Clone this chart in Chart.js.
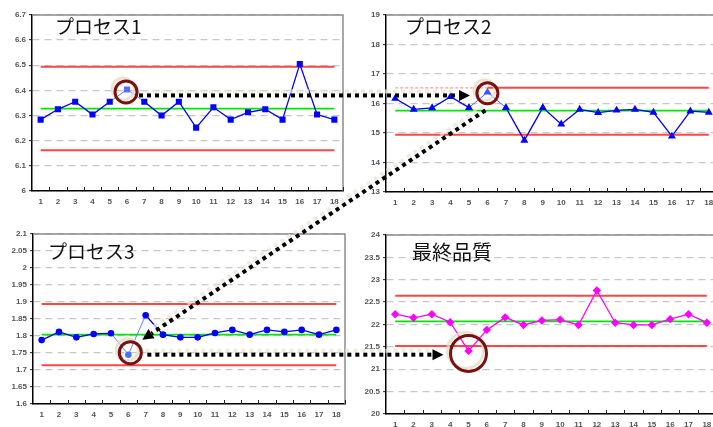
<!DOCTYPE html>
<html>
<head>
<meta charset="utf-8">
<script src="https://cdn.jsdelivr.net/npm/chart.js@4"></script>
<style>
  html, body { margin: 0; padding: 0; background: #fff; }
  #page { position: relative; width: 713px; height: 427px; overflow: hidden; }
  canvas { position: absolute; }
</style>
</head>
<body>
<div id="page">
  <canvas id="c1" width="356" height="213" style="left:0;top:0"></canvas>
  <canvas id="c2" width="372" height="213" style="left:356px;top:0"></canvas>
  <canvas id="c3" width="356" height="212" style="left:0;top:215px"></canvas>
  <canvas id="c4" width="372" height="230" style="left:356px;top:215px"></canvas>
  <canvas id="overlay" width="713" height="427" style="left:0;top:0"></canvas>
</div>
<script>
// sample numbers along x
const categories = ['1', '2', '3', '4', '5', '6', '7', '8', '9', '10', '11', '12', '13', '14', '15', '16', '17', '18'];

// titles
const titles = ['プロセス1', 'プロセス2', 'プロセス3', '最終品質'];

// measured values per process
const proc1 = [6.284, 6.325, 6.355, 6.304, 6.355, 6.404, 6.355, 6.30, 6.355, 6.252, 6.333, 6.284, 6.313, 6.325, 6.284, 6.505, 6.304, 6.284];
const proc2 = [16.17, 15.8, 15.85, 16.23, 15.86, 16.38, 15.86, 14.75, 15.86, 15.3, 15.8, 15.69, 15.77, 15.8, 15.7, 14.89, 15.74, 15.7];
const proc3 = [1.788, 1.812, 1.796, 1.806, 1.808, 1.745, 1.861, 1.804, 1.796, 1.796, 1.809, 1.818, 1.804, 1.818, 1.812, 1.818, 1.804, 1.818];
const finalQ = [22.23, 22.15, 22.23, 22.05, 21.41, 21.88, 22.16, 21.99, 22.09, 22.11, 21.99, 22.76, 22.04, 21.99, 21.99, 22.12, 22.23, 22.04];

// control limits: UCL, CL, LCL
const proc1Limits = [6.494, 6.328, 6.162];
const proc2Limits = [16.53, 15.76, 14.94];
const proc3Limits = [1.894, 1.804, 1.714];
const finalLimits = [22.64, 22.07, 21.52];

// y axis: min, max, step
const proc1Axis = [6, 6.7, 0.1];
const proc2Axis = [13, 19, 1];
const proc3Axis = [1.6, 2.1, 0.05];
const finalAxis = [20, 24, 0.5];

const tickFont = { family: 'Liberation Sans, Arial, sans-serif', size: 8, weight: 'bold' };

// grey frame, inward x ticks and the title inside the plot
const framePlugin = {
  id: 'frame',
  beforeDatasetsDraw(chart, args, opts) {
    const a = chart.chartArea;
    const ctx = chart.ctx;
    ctx.save();
    ctx.strokeStyle = '#8a8a8a';
    ctx.lineWidth = 1.5;
    ctx.beginPath();
    ctx.moveTo(a.left, a.top);
    ctx.lineTo(a.right, a.top);
    ctx.lineTo(a.right, a.bottom);
    ctx.stroke();
    // short ticks between categories, pointing up
    const step = a.width / categories.length;
    ctx.strokeStyle = '#222';
    ctx.lineWidth = 1;
    ctx.beginPath();
    for (let i = 1; i <= categories.length; i++) {
      const x = Math.round(a.left + i * step) + 0.5;
      ctx.moveTo(x, a.bottom);
      ctx.lineTo(x, a.bottom - 4);
    }
    ctx.stroke();
    ctx.fillStyle = '#111';
    ctx.font = opts.size + 'px "Noto Sans CJK JP", sans-serif';
    ctx.textBaseline = 'middle';
    ctx.fillText(opts.text, a.left + opts.dx, a.top + opts.dy);
    ctx.restore();
  }
};

function limitSet(value, color, width, segment) {
  const pts = segment
    ? [{ x: '1', y: value }, { x: '6', y: value }, { x: '18', y: value }]
    : [{ x: '1', y: value }, { x: '18', y: value }];
  return {
    data: pts,
    borderColor: color,
    borderWidth: width,
    pointRadius: 0,
    segment: segment || {}
  };
}

function makeChart(id, values, limits, axis, look) {
  const el = document.getElementById(id);
  const W = el.width, H = el.height;
  const ucl = limitSet(limits[0], '#ff4646', 2, look.uclSegment);
  const cl = limitSet(limits[1], '#00e600', 1.8);
  const lcl = limitSet(limits[2], '#ff4646', 2);
  return new Chart(el, {
    type: 'line',
    data: {
      labels: categories,
      datasets: [
        {
          data: values,
          borderColor: look.color,
          borderWidth: 1.3,
          pointStyle: look.point,
          pointRadius: look.radius,
          pointBorderWidth: 0,
          pointBackgroundColor: ctx => ctx.dataIndex === look.faded ? look.fadedColor : look.color,
          segment: {
            borderColor: ctx => (ctx.p0DataIndex === look.faded || ctx.p1DataIndex === look.faded) ? look.fadedColor : look.color,
            borderWidth: ctx => (ctx.p0DataIndex === look.faded || ctx.p1DataIndex === look.faded) ? 0.9 : 1.3
          }
        },
        ucl, cl, lcl
      ]
    },
    options: {
      responsive: false,
      animation: false,
      events: [],
      layout: { padding: { left: 0, top: look.area[1], right: W - look.area[2], bottom: 0 } },
      plugins: {
        legend: { display: false },
        tooltip: { enabled: false },
        frame: { text: look.title, size: look.titleSize, dx: look.titleAt[0], dy: look.titleAt[1] }
      },
      scales: {
        x: {
          type: 'category',
          offset: true,
          afterFit: s => { s.height = H - look.area[3]; },
          grid: { display: true, drawOnChartArea: false, drawTicks: false, offset: true },
          border: { color: '#000', width: 1.5 },
          ticks: { color: '#555', font: tickFont, padding: 6, maxRotation: 0, autoSkip: false }
        },
        y: {
          min: axis[0],
          max: axis[1],
          afterFit: s => { s.width = look.area[0]; },
          afterBuildTicks: s => {
            const t = [];
            const n = Math.round((axis[1] - axis[0]) / axis[2]);
            for (let i = 0; i <= n; i++) t.push({ value: +(axis[0] + i * axis[2]).toFixed(3) });
            s.ticks = t;
          },
          grid: { color: '#c8c8c8', lineWidth: 1.3, tickColor: '#222', tickLength: 3, tickWidth: 1 },
          border: { color: '#000', width: 1.5, dash: [7, 5] },
          ticks: {
            color: '#555',
            font: tickFont,
            padding: 3,
            callback: v => String(+Number(v).toFixed(3))
          }
        }
      }
    },
    plugins: [framePlugin]
  });
}

Chart.defaults.font.family = 'Liberation Sans, Arial, sans-serif';

const ch1 = makeChart('c1', proc1, proc1Limits, proc1Axis, {
  title: titles[0], titleSize: 19, titleAt: [23, 12],
  area: [32, 15, 343, 191], color: '#0000ff', point: 'rect', radius: 4.3,
  faded: 5, fadedColor: '#5a6bff'
});
const ch2 = makeChart('c2', proc2, proc2Limits, proc2Axis, {
  title: titles[1], titleSize: 19, titleAt: [19, 12],
  area: [30, 15, 362, 192], color: '#0000ff', point: 'triangle', radius: 4.6,
  faded: 5, fadedColor: '#3a55ff',
  uclSegment: {
    borderColor: ctx => ctx.p0DataIndex === 0 ? '#ff9a9a' : '#ff4646',
    borderDash: ctx => ctx.p0DataIndex === 0 ? [3, 2] : [],
    borderWidth: ctx => ctx.p0DataIndex === 0 ? 1.3 : 2
  }
});
const ch3 = makeChart('c3', proc3, proc3Limits, proc3Axis, {
  title: titles[2], titleSize: 19, titleAt: [15, 18],
  area: [33, 19, 345, 189], color: '#0000ff', point: 'circle', radius: 3.3,
  faded: 5, fadedColor: '#4f6fff'
});
const ch4 = makeChart('c4', finalQ, finalLimits, finalAxis, {
  title: titles[3], titleSize: 20, titleAt: [26, 17],
  area: [30, 20, 360, 199], color: '#ff00ff', point: 'rectRot', radius: 4.2,
  faded: -1, fadedColor: '#ff00ff'
});

// annotation layer: circles round the off-limit samples and the dotted arrows
function pointAt(chart, idx, left, top) {
  const p = chart.getDatasetMeta(0).data[idx];
  return { x: p.x + left, y: p.y + top };
}

const ov = document.getElementById('overlay').getContext('2d');

function ring(c, r) {
  ov.save();
  ov.shadowColor = 'rgba(228,222,200,0.85)';
  ov.shadowOffsetX = -3;
  ov.shadowOffsetY = -3;
  ov.shadowBlur = 1;
  ov.strokeStyle = '#7a1010';
  ov.lineWidth = 3;
  ov.beginPath();
  ov.arc(c.x, c.y, r, 0, Math.PI * 2);
  ov.stroke();
  ov.restore();
}

function arrow(from, to) {
  const ang = Math.atan2(to.y - from.y, to.x - from.x);
  const len = 11, half = 5.5;
  const base = { x: to.x - len * Math.cos(ang), y: to.y - len * Math.sin(ang) };
  ov.save();
  ov.shadowColor = 'rgba(232,228,212,0.75)';
  ov.shadowOffsetX = -2;
  ov.shadowOffsetY = -4;
  ov.shadowBlur = 0;
  ov.strokeStyle = '#000';
  ov.lineWidth = 4;
  ov.setLineDash([4, 4]);
  ov.beginPath();
  ov.moveTo(from.x, from.y);
  ov.lineTo(base.x, base.y);
  ov.stroke();
  ov.setLineDash([]);
  ov.shadowColor = 'rgba(0,0,0,0)';
  ov.fillStyle = '#000';
  ov.beginPath();
  ov.moveTo(to.x, to.y);
  ov.lineTo(base.x + half * Math.sin(ang), base.y - half * Math.cos(ang));
  ov.lineTo(base.x - half * Math.sin(ang), base.y + half * Math.cos(ang));
  ov.closePath();
  ov.fill();
  ov.restore();
}

const p16 = pointAt(ch1, 5, 0, 0);
const p26 = pointAt(ch2, 5, 356, 0);
const p25 = pointAt(ch2, 4, 356, 0);
const p36 = pointAt(ch3, 5, 0, 215);
const p45 = pointAt(ch4, 4, 356, 215);

const r1 = { x: p16.x - 1, y: p16.y + 2.5 };
const r2 = { x: p26.x, y: p26.y + 1 };
const r3 = { x: p36.x + 2, y: p36.y - 2 };
const r4 = { x: p45.x, y: p45.y + 2.5 };

arrow({ x: r1.x + 13, y: p16.y + 6 }, { x: p25.x + 1, y: p16.y + 6 });
arrow({ x: p26.x - 2, y: p26.y + 18 }, { x: r3.x + 12, y: r3.y - 13 });
arrow({ x: r3.x + 17, y: r3.y + 2 }, { x: r4.x - 25, y: r3.y + 2 });

ring(r1, 11);
ring(r2, 10.5);
ring(r3, 11);
ring(r4, 18);
</script>
</body>
</html>
